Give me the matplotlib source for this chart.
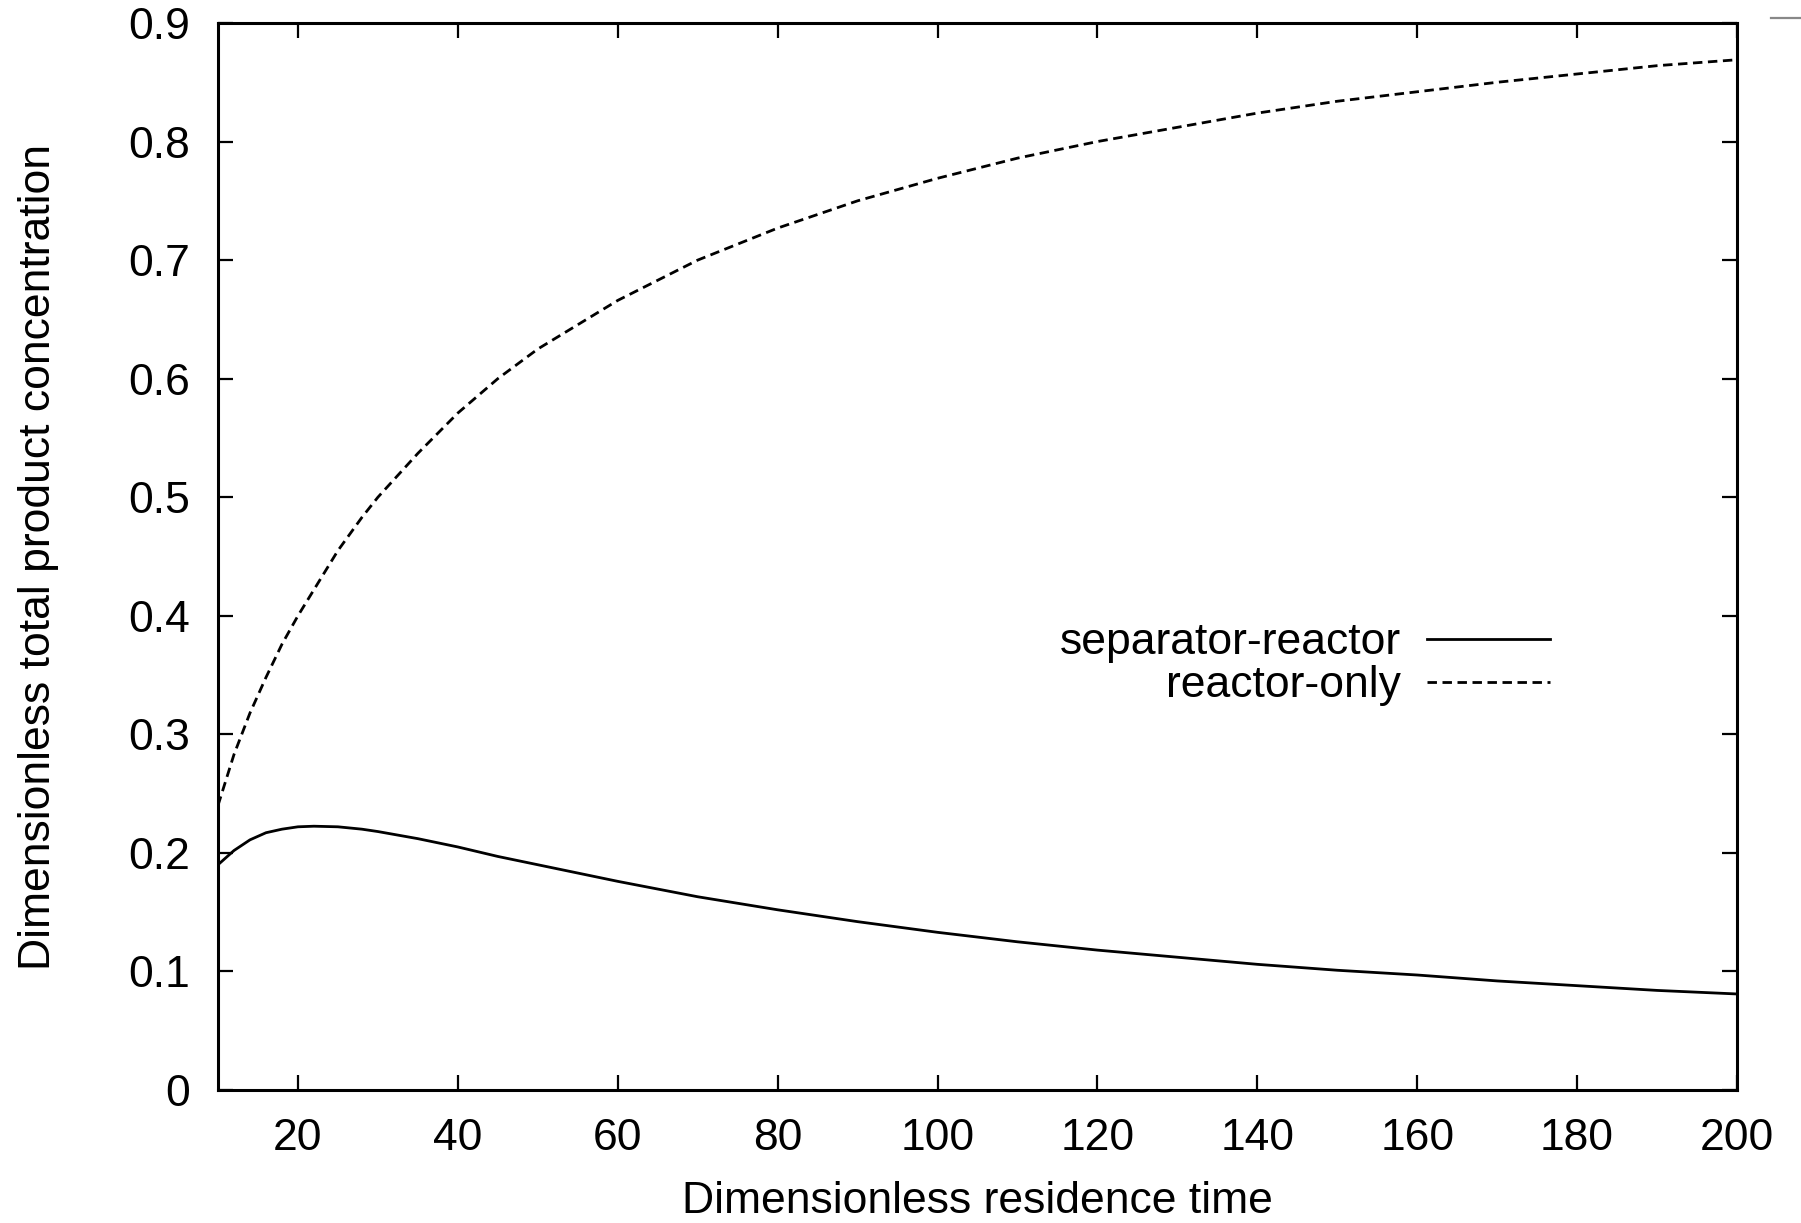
import matplotlib
matplotlib.use("Agg")
import matplotlib.pyplot as plt
import numpy as np
from matplotlib.lines import Line2D

plt.rcParams['font.family'] = ['Liberation Sans', 'DejaVu Sans']

# values
tau = [10, 12, 14, 16, 18, 20, 22, 25, 28, 30, 35, 40, 45, 50, 60, 70, 80, 90,
       100, 110, 120, 130, 140, 150, 160, 170, 180, 190, 200]
sep_reactor = [0.190, 0.202, 0.211, 0.217, 0.220, 0.222, 0.2225, 0.222, 0.220,
               0.218, 0.212, 0.205, 0.197, 0.190, 0.176, 0.163, 0.152, 0.142,
               0.133, 0.125, 0.118, 0.112, 0.106, 0.101, 0.097, 0.092, 0.088,
               0.084, 0.081]
reactor_only = [0.240, 0.283, 0.318, 0.348, 0.376, 0.400, 0.422, 0.455, 0.483,
                0.500, 0.537, 0.571, 0.600, 0.625, 0.666, 0.700, 0.727, 0.750,
                0.769, 0.786, 0.800, 0.812, 0.824, 0.834, 0.842, 0.850, 0.857,
                0.864, 0.869]
labels = ["separator-reactor", "reactor-only"]

fig = plt.figure(figsize=(18.01, 12.23), dpi=100)
ax = fig.add_axes([218/1801, 1 - 1090/1223, (1737-218)/1801, (1090-23)/1223])

ax.plot(tau, sep_reactor, color="black", lw=2.0, label=labels[0])
ax.plot(tau, reactor_only, color="black", lw=2.0, linestyle=(0, (3.4, 2.0)),
        dash_capstyle="butt", label=labels[1])

ax.set_xlim(10, 200)
ax.set_ylim(0, 0.9)
ax.set_xticks(np.arange(20, 201, 20))
ax.set_yticks(np.arange(0, 0.91, 0.1))
ax.set_yticklabels([f"{v:g}" for v in np.round(np.arange(0, 0.91, 0.1), 1)])

for s in ax.spines.values():
    s.set_linewidth(2.2)
ax.tick_params(direction="in", length=11, width=1.6, top=True, right=True,
               labelsize=32, pad=20)

ax.set_xlabel("Dimensionless residence time", fontsize=32, labelpad=16)
ax.set_ylabel("Dimensionless total product concentration", fontsize=32, labelpad=50)

leg = ax.legend(loc="center right", bbox_to_anchor=(0.903, 0.399), frameon=False,
                markerfirst=False, fontsize=32, handlelength=2.75,
                handletextpad=0.6, labelspacing=0.05)
for t in leg.get_texts():
    t.set_ha("right")

# small grey mark in the top right corner of the original
fig.add_artist(Line2D([1771/1801, 1.0], [1 - 17.5/1223, 1 - 17.5/1223],
                      color="#888888", lw=1.6))

fig.savefig("out.png", dpi=100)
